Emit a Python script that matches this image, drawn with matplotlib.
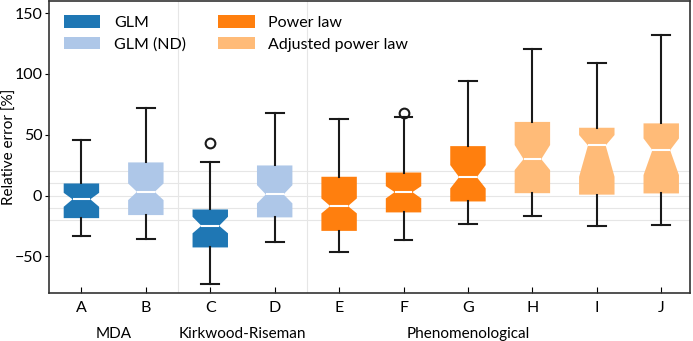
"""Relative error of the viscosity models, notched box plots."""

import matplotlib
matplotlib.use("Agg")
import matplotlib.pyplot as plt
from matplotlib.patches import Patch
from matplotlib.transforms import blended_transform_factory

plt.rcParams["font.family"] = ["Lato", "DejaVu Sans"]

labels = ["A", "B", "C", "D", "E", "F", "G", "H", "I", "J"]
med = [-3.0, 3.1, -24.8, 1.0, -8.6, 2.9, 15.2, 30.0, 41.3, 37.4]
q1 = [-18.5, -16.0, -42.6, -17.9, -29.0, -13.8, -4.8, 2.0, 0.8, 1.8]
q3 = [10.0, 27.3, -11.4, 24.8, 15.5, 19.0, 40.7, 60.6, 55.8, 59.4]
whislo = [-33.0, -35.5, -72.6, -38.0, -46.3, -36.9, -23.7, -16.9, -25.1, -24.0]
whishi = [45.7, 72.3, 27.8, 68.0, 62.8, 64.8, 94.4, 120.3, 109.0, 132.1]
cilo = [-9.2, -3.7, -31.0, -6.4, -14.6, -2.3, 5.9, 21.0, 15.5, 16.9]
cihi = [2.3, 10.0, -17.4, 8.6, -2.3, 7.8, 25.1, 41.6, 49.8, 47.0]
fliers = [[], [], [43.5], [], [], [67.7], [], [], [], []]
model = ["GLM", "GLM (ND)", "GLM", "GLM (ND)", "Power law", "Power law",
         "Power law", "Adjusted power law", "Adjusted power law", "Adjusted power law"]

groups = ["MDA", "Kirkwood-Riseman", "Phenomenological"]
group_x = [1.5, 3.5, 7]

colors = {"GLM": "#1f77b4", "GLM (ND)": "#aec7e8",
          "Power law": "#ff7f0e", "Adjusted power law": "#ffbb78"}

fig = plt.figure(figsize=(6.93, 3.41), dpi=100)
ax = fig.add_axes([0.071, 0.141, 0.925, 0.856])

stats = []
for i in range(len(labels)):
    stats.append(dict(med=med[i], q1=q1[i], q3=q3[i], whislo=whislo[i],
                      whishi=whishi[i], cilo=cilo[i], cihi=cihi[i],
                      fliers=fliers[i], label=labels[i]))

bp = ax.bxp(stats, positions=range(1, len(labels) + 1), widths=0.55,
            shownotches=True, patch_artist=True,
            boxprops=dict(linewidth=0),
            medianprops=dict(color="white", linewidth=1.5),
            whiskerprops=dict(color="#1a1a1a", linewidth=1.5),
            capprops=dict(color="#1a1a1a", linewidth=1.5),
            flierprops=dict(marker="o", markerfacecolor="none",
                            markeredgecolor="#1a1a1a", markersize=7,
                            markeredgewidth=1.5))
for patch, m in zip(bp["boxes"], model):
    patch.set_facecolor(colors[m])
    patch.set_edgecolor(colors[m])

# light grid near zero and group separators
for y in [-20, -10, 0, 10, 20]:
    ax.axhline(y, color="#e6e6e6", linewidth=0.8, zorder=0)
for x in [2.5, 4.5]:
    ax.axvline(x, color="#e6e6e6", linewidth=0.8, zorder=0)

ax.set_xlim(0.5, 10.45)
ax.set_ylim(-80, 160)
ax.set_yticks([-50, 0, 50, 100, 150])
ax.set_ylabel("Relative error [%]", fontsize=11)
ax.yaxis.set_label_coords(-0.05, 0.5)
ax.tick_params(axis="x", direction="in", length=4, labelsize=11.5, pad=6)
ax.tick_params(axis="y", direction="out", length=3, labelsize=11.5, pad=2)
for s in ax.spines.values():
    s.set_linewidth(1.2)
    s.set_color("#333333")

trans = blended_transform_factory(ax.transData, ax.transAxes)
for g, gx in zip(groups, group_x):
    ax.text(gx, -0.14, g, transform=trans, ha="center", va="center", fontsize=11)

handles = [Patch(facecolor=colors[k], edgecolor="none") for k in
           ["GLM", "GLM (ND)", "Power law", "Adjusted power law"]]
ax.legend(handles, ["GLM", "GLM (ND)", "Power law", "Adjusted power law"],
          ncol=2, loc="upper left", frameon=False, fontsize=11.5,
          handlelength=2.3, handleheight=0.8, columnspacing=2.0,
          handletextpad=0.85, labelspacing=0.45,
          bbox_to_anchor=(0.0, 1.0))

fig.savefig("out.png", dpi=100)
